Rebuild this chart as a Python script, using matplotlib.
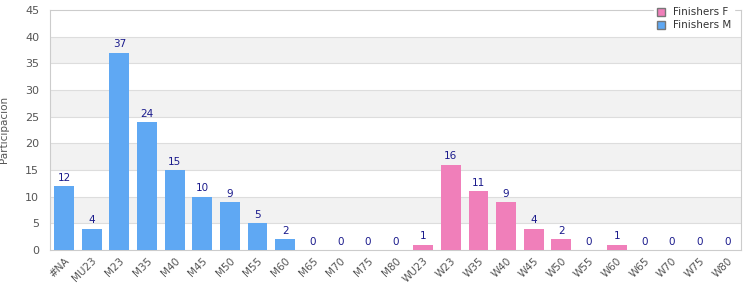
import matplotlib.pyplot as plt
import numpy as np
from matplotlib.patches import Patch

categories = ["#NA", "MU23", "M23", "M35", "M40", "M45", "M50", "M55", "M60",
              "M65", "M70", "M75", "M80", "WU23", "W23", "W35", "W40", "W45",
              "W50", "W55", "W60", "W65", "W70", "W75", "W80"]
finishers_m = [12, 4, 37, 24, 15, 10, 9, 5, 2, 0, 0, 0, 0]
finishers_f = [1, 16, 11, 9, 4, 2, 0, 1, 0, 0, 0, 0]

blue = "#5fa8f3"
pink = "#f07fba"
values = finishers_m + finishers_f
colors = [blue] * len(finishers_m) + [pink] * len(finishers_f)

fig = plt.figure(figsize=(7.5, 3), dpi=100)
ax = fig.add_axes([0.067, 0.167, 0.921, 0.8])

x = np.arange(len(categories))
ax.bar(x, values, width=0.72, color=colors, zorder=3)

# alternating bands
for lo in range(5, 45, 10):
    ax.axhspan(lo, lo + 5, color="#f2f2f2", zorder=0, lw=0)
for y in range(5, 45, 5):
    ax.axhline(y, color="#dddddd", lw=0.8, zorder=1)

for xi, v in zip(x, values):
    ax.text(xi, v + 0.6, str(v), ha="center", va="bottom",
            fontsize=7.5, color="#1a1a8c", zorder=4)

ax.set_xlim(-0.5, len(categories) - 0.5)
ax.set_ylim(0, 45)
ax.set_yticks(range(0, 46, 5))
ax.set_xticks(x)
ax.set_xticklabels(categories, rotation=45, ha="right", rotation_mode="anchor",
                   fontsize=7.5, color="#555555")
ax.tick_params(axis="y", labelsize=8, colors="#555555", length=0, pad=8)
ax.tick_params(axis="x", length=0, pad=4)
ax.set_ylabel("Participación", fontsize=7.5, color="#555555")
ax.yaxis.set_label_coords(-0.059, 0.5)

for s in ax.spines.values():
    s.set_color("#cccccc")
    s.set_linewidth(0.8)

handles = [Patch(facecolor=pink, edgecolor="#777777", label="Finishers F"),
           Patch(facecolor=blue, edgecolor="#777777", label="Finishers M")]
fig.legend(handles=handles, loc="upper right", bbox_to_anchor=(0.985, 1.0),
           frameon=True, facecolor="white", edgecolor="white", framealpha=1,
           fontsize=7.5, handlelength=0.8, handleheight=0.8, labelspacing=0.3,
           borderpad=0.2, handletextpad=0.8, labelcolor="#333333")

fig.savefig("out.png", dpi=100)
